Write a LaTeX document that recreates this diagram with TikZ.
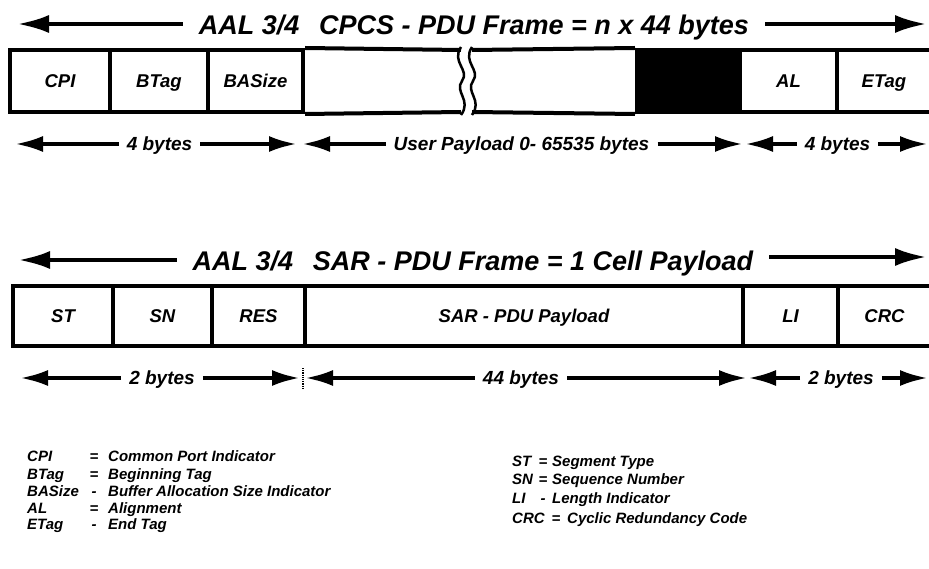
\documentclass[tikz,border=0pt]{standalone}
\usepackage{fontspec}
\setmainfont{Liberation Sans}
\usetikzlibrary{arrows.meta}
\begin{document}
\begin{tikzpicture}[x=1pt,y=-1pt,
  cell/.style={draw, line width=4pt, minimum height=62pt, inner sep=0pt,
    font=\fontsize{18.5}{18.5}\selectfont\bfseries\itshape, text height=13.2pt, text depth=0pt},
  cellb/.style={cell, minimum height=60pt},
  ttl/.style={font=\fontsize{27}{27}\selectfont\bfseries\itshape, inner xsep=16pt, inner ysep=0pt,
    text height=19.3pt, text depth=0pt},
  dim/.style={font=\fontsize{19}{19}\selectfont\bfseries\itshape, inner xsep=8pt, inner ysep=0pt,
    text height=13.6pt, text depth=0pt},
  bigarrow/.style={line width=4.5pt, -{Latex[length=32pt,width=18pt]}},
  dimarrow/.style={line width=4pt, -{Latex[length=28pt,width=16pt]}},
  leg/.style={font=\fontsize{15}{15}\selectfont\bfseries\itshape, anchor=base west, inner sep=0pt},
  legs/.style={leg, anchor=base},
  border/.style={line width=4pt},
  wave/.style={line width=2.5pt}
]
\clip (0,0) rectangle (929,569);
\fill[white] (0,0) rectangle (929,569);

% ---------- CPCS title ----------
\node[ttl] (t1) at (474,25) {AAL 3/4\hspace{0.45em} CPCS - PDU Frame = n x 44 bytes};
\coordinate (t1l) at (17,24);
\coordinate (t1r) at (927,24);
\draw[bigarrow] (t1.west |- t1l) -- (t1l);
\draw[bigarrow] (t1.east |- t1r) -- (t1r);

% ---------- CPCS frame ----------
\node[cell, minimum width=100pt] (cpi) at (60,81) {CPI};
\node[cell, minimum width=98pt] (btag) at (159,81) {BTag};
\node[cell, minimum width=95pt] (basize) at (255.5,81) {BASize};
\node[cell, fill=black, minimum width=103pt] (pad) at (688.5,81) {};
\node[cell, minimum width=97pt] (al) at (788.5,81) {AL};
\node[cell, minimum width=94pt] (etag) at (884,81) {ETag};
\coordinate (brk1t) at (461,50);
\coordinate (brk1b) at (461,112);
\coordinate (brk2t) at (472,50);
\coordinate (brk2b) at (472,112);
\draw[border] (basize.north east) -- (brk1t);
\draw[border] (basize.south east) -- (brk1b);
\draw[border] (brk2t) -- (pad.north west);
\draw[border] (brk2b) -- (pad.south west);
\draw[wave] (461,47) .. controls (451,62) and (470,70) .. (462,81) .. controls (454,92) and (472,100) .. (461,115);
\draw[wave] (472,47) .. controls (462,62) and (481,70) .. (473,81) .. controls (465,92) and (483,100) .. (472,115);

% ---------- CPCS dimensions ----------
\node[dim] (d1) at (159.5,144) {4 bytes};
\coordinate (d1a) at (15,144);
\coordinate (d1b) at (297,144);
\draw[dimarrow] (d1.west |- d1a) -- (d1a);
\draw[dimarrow] (d1.east |- d1b) -- (d1b);
\node[dim] (d2) at (521.5,144) {User Payload 0- 65535 bytes};
\coordinate (d2a) at (302,144);
\coordinate (d2b) at (743,144);
\draw[dimarrow] (d2.west |- d2a) -- (d2a);
\draw[dimarrow] (d2.east |- d2b) -- (d2b);
\node[dim] (d3) at (837.5,144) {4 bytes};
\coordinate (d3a) at (745,144);
\coordinate (d3b) at (928,144);
\draw[dimarrow] (d3.west |- d3a) -- (d3a);
\draw[dimarrow] (d3.east |- d3b) -- (d3b);

% ---------- SAR title ----------
\node[ttl] (t2) at (473,261) {AAL 3/4\hspace{0.45em} SAR - PDU Frame = 1 Cell Payload};
\coordinate (t2l) at (18,260);
\coordinate (t2r) at (927,257);
\draw[bigarrow] (t2.west |- t2l) -- (t2l);
\draw[bigarrow] (t2.east |- t2r) -- (t2r);

% ---------- SAR frame ----------
\node[cellb, minimum width=100pt] (st) at (63,316) {ST};
\node[cellb, minimum width=99pt] (sn) at (162.5,316) {SN};
\node[cellb, minimum width=93pt] (res) at (258.5,316) {RES};
\node[cellb, minimum width=438pt] (sarp) at (524,316) {SAR - PDU Payload};
\node[cellb, minimum width=95pt] (li) at (790.5,316) {LI};
\node[cellb, minimum width=93pt] (crc) at (884.5,316) {CRC};

% ---------- SAR dimensions ----------
\node[dim] (d4) at (162,378) {2 bytes};
\coordinate (d4a) at (20,378);
\coordinate (d4b) at (300,378);
\draw[dimarrow] (d4.west |- d4a) -- (d4a);
\draw[dimarrow] (d4.east |- d4b) -- (d4b);
\draw[line width=1.2pt, densely dotted] (303,368) -- (303,389);
\node[dim] (d5) at (521,378) {44 bytes};
\coordinate (d5a) at (305,378);
\coordinate (d5b) at (747,378);
\draw[dimarrow] (d5.west |- d5a) -- (d5a);
\draw[dimarrow] (d5.east |- d5b) -- (d5b);
\node[dim] (d6) at (841,378) {2 bytes};
\coordinate (d6a) at (748,378);
\coordinate (d6b) at (928,378);
\draw[dimarrow] (d6.west |- d6a) -- (d6a);
\draw[dimarrow] (d6.east |- d6b) -- (d6b);

% ---------- Legend, left ----------
\node[leg] (l1a) at (27,461) {CPI};
\node[legs] (l1s) at (94,461) {=};
\node[leg] (l1d) at (108,461) {Common Port Indicator};
\node[leg] (l2a) at (27,479) {BTag};
\node[legs] (l2s) at (94,479) {=};
\node[leg] (l2d) at (108,479) {Beginning Tag};
\node[leg] (l3a) at (27,496) {BASize};
\node[legs] (l3s) at (94,496) {-};
\node[leg] (l3d) at (108,496) {Buffer Allocation Size Indicator};
\node[leg] (l4a) at (27,513) {AL};
\node[legs] (l4s) at (94,513) {=};
\node[leg] (l4d) at (108,513) {Alignment};
\node[leg] (l5a) at (27,529) {ETag};
\node[legs] (l5s) at (94,529) {-};
\node[leg] (l5d) at (108,529) {End Tag};

% ---------- Legend, right ----------
\node[leg] (r1a) at (512,466) {ST};
\node[legs] (r1s) at (543,466) {=};
\node[leg] (r1d) at (552,466) {Segment Type};
\node[leg] (r2a) at (512,484) {SN};
\node[legs] (r2s) at (543,484) {=};
\node[leg] (r2d) at (552,484) {Sequence Number};
\node[leg] (r3a) at (512,503) {LI};
\node[legs] (r3s) at (543,503) {-};
\node[leg] (r3d) at (552,503) {Length Indicator};
\node[leg] (r4a) at (512,523) {CRC};
\node[legs] (r4s) at (556,523) {=};
\node[leg] (r4d) at (567,523) {Cyclic Redundancy Code};
\end{tikzpicture}
\end{document}
